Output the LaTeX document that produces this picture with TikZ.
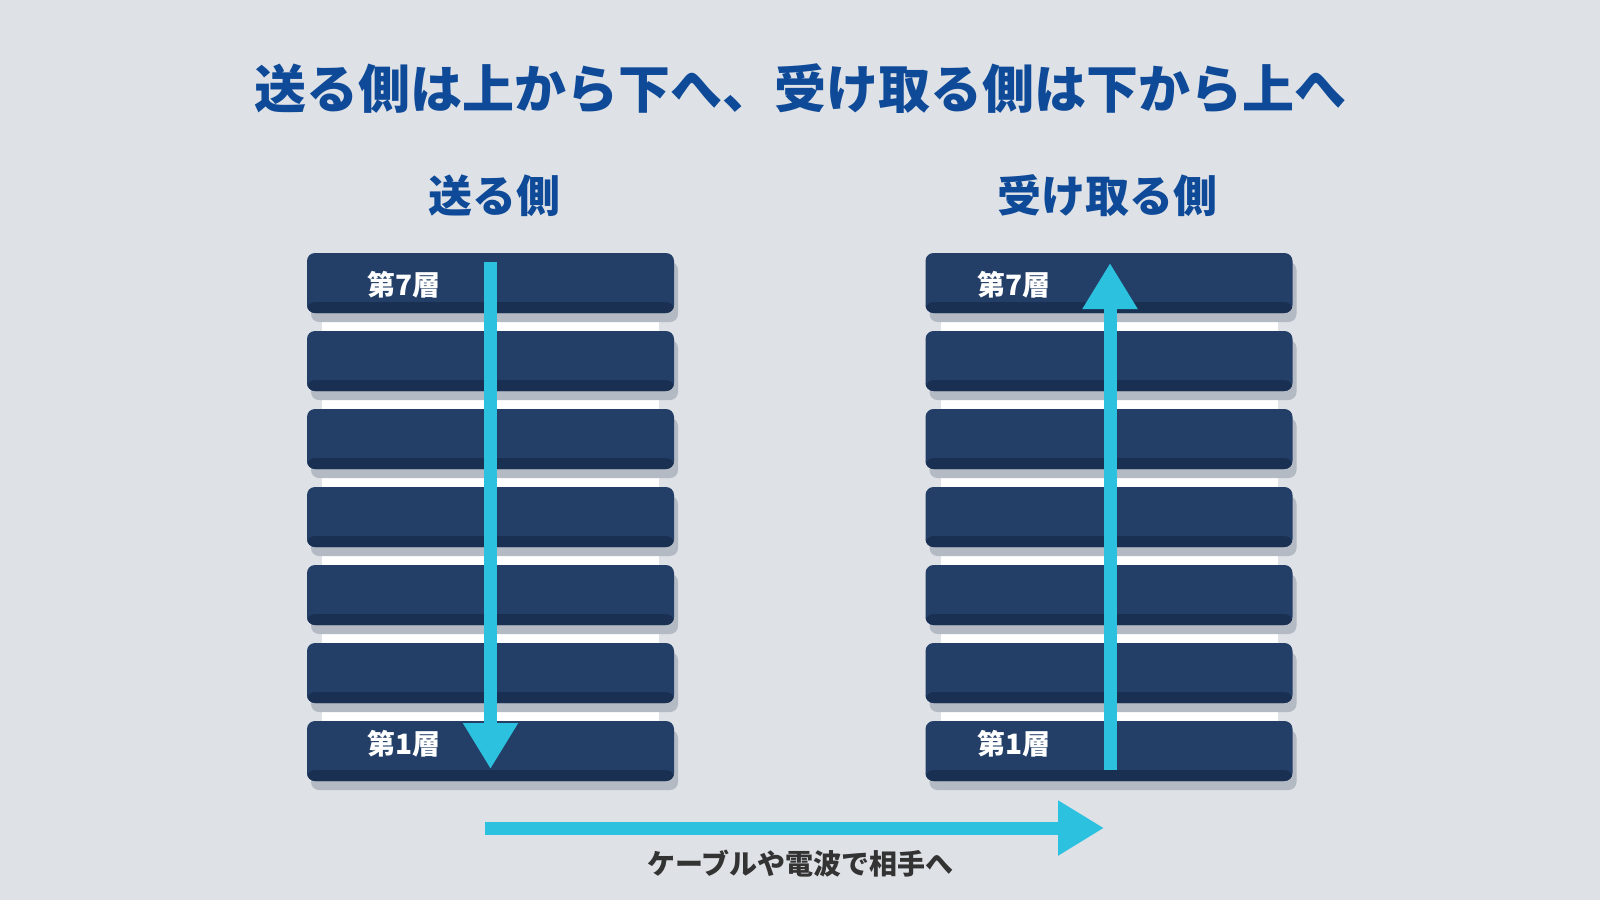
\documentclass[tikz,border=0pt]{standalone}
\usepackage{fontspec}
\newfontfamily\jp{Noto Sans CJK JP}
\usepackage{tikz}
\usetikzlibrary{positioning,calc,arrows.meta,shadows}
\definecolor{pagebg}{HTML}{DEE1E6}
\definecolor{slabblue}{HTML}{233F68}
\definecolor{slabedge}{HTML}{1A3053}
\definecolor{slabshadow}{HTML}{B4BAC3}
\definecolor{headblue}{HTML}{0E4A98}
\definecolor{flowcyan}{HTML}{2BC1DF}
\definecolor{captiongray}{HTML}{333333}
\pgfdeclarelayer{bg}
\pgfdeclarelayer{strip}
\pgfsetlayers{bg,strip,main}
\tikzset{
  slab/.style={fill=slabblue, rounded corners=4pt, minimum width=183.5pt, minimum height=30pt, inner sep=0pt, outer sep=0pt,
    drop shadow={shadow xshift=2pt, shadow yshift=-4.5pt, fill=slabshadow, opacity=1},
    path picture={\fill[slabedge] ([yshift=5.5pt]path picture bounding box.south west) rectangle (path picture bounding box.south east);}},
  tag/.style={text=white, font=\jp\bfseries\fontsize{14pt}{14pt}\selectfont, inner sep=0pt, anchor=west},
  headline/.style={text=headblue, font=\jp\bfseries\fontsize{26pt}{26pt}\selectfont, inner sep=0pt},
  side/.style={text=headblue, font=\jp\bfseries\fontsize{22pt}{22pt}\selectfont, inner sep=0pt},
  caption/.style={text=captiongray, font=\jp\bfseries\fontsize{14pt}{14pt}\selectfont, inner sep=0pt},
  flow/.style={draw=flowcyan, line width=6.5pt, -{Triangle[width=26pt,length=23pt]}}
}
\begin{document}
\begin{tikzpicture}[x=0.5pt,y=-0.5pt]
  \useasboundingbox (0,0) rectangle (1600,900);
  \begin{pgfonlayer}{bg}
    \fill[pagebg] (0,0) rectangle (1600,900);
  \end{pgfonlayer}

  \node[headline] (title) at (800,89) {送る側は上から下へ、受け取る側は下から上へ};

  % sending stack
  \node[slab] (s7) at (490.5,283) {};
  \foreach \i [evaluate=\i as \j using int(\i+1)] in {6,5,...,1}
    \node[slab, below=9pt of s\j] (s\i) {};
  \node[side, above=18pt of s7, xshift=2pt] (send) {送る側};

  % receiving stack
  \node[slab] (r7) at (1109,283) {};
  \foreach \i [evaluate=\i as \j using int(\i+1)] in {6,5,...,1}
    \node[slab, below=9pt of r\j] (r\i) {};
  \node[side, above=18pt of r7, xshift=-1pt] (recv) {受け取る側};

  \begin{pgfonlayer}{strip}
    \fill[white] ([xshift=7.5pt]s7.south west) rectangle ([xshift=-7.5pt]s1.north east);
    \fill[white] ([xshift=7.5pt]r7.south west) rectangle ([xshift=-7.5pt]r1.north east);
  \end{pgfonlayer}

  \node[tag] (s7 tag) at ([xshift=30pt,yshift=-1pt]s7.west) {第7層};
  \node[tag] (s1 tag) at ([xshift=30pt,yshift=3.5pt]s1.west) {第1層};
  \node[tag] (r7 tag) at ([xshift=26pt,yshift=-1pt]r7.west) {第7層};
  \node[tag] (r1 tag) at ([xshift=26pt,yshift=3.5pt]r1.west) {第1層};

  \draw[flow] ([yshift=-4.5pt]s7.north) -- ([yshift=6pt]s1.south);
  \draw[flow] ([xshift=0.5pt,yshift=5.5pt]r1.south) -- ([xshift=0.5pt,yshift=-5pt]r7.north);

  \coordinate (wire) at ($(s1.south)+(-3pt,-23.5pt)$);
  \coordinate (wire end) at ($(r1.south)+(-2.5pt,-23.5pt)$);
  \draw[flow] (wire) -- (wire end) node[caption, midway, below=7.5pt, xshift=3pt] (cable) {ケーブルや電波で相手へ};
\end{tikzpicture}
\end{document}
